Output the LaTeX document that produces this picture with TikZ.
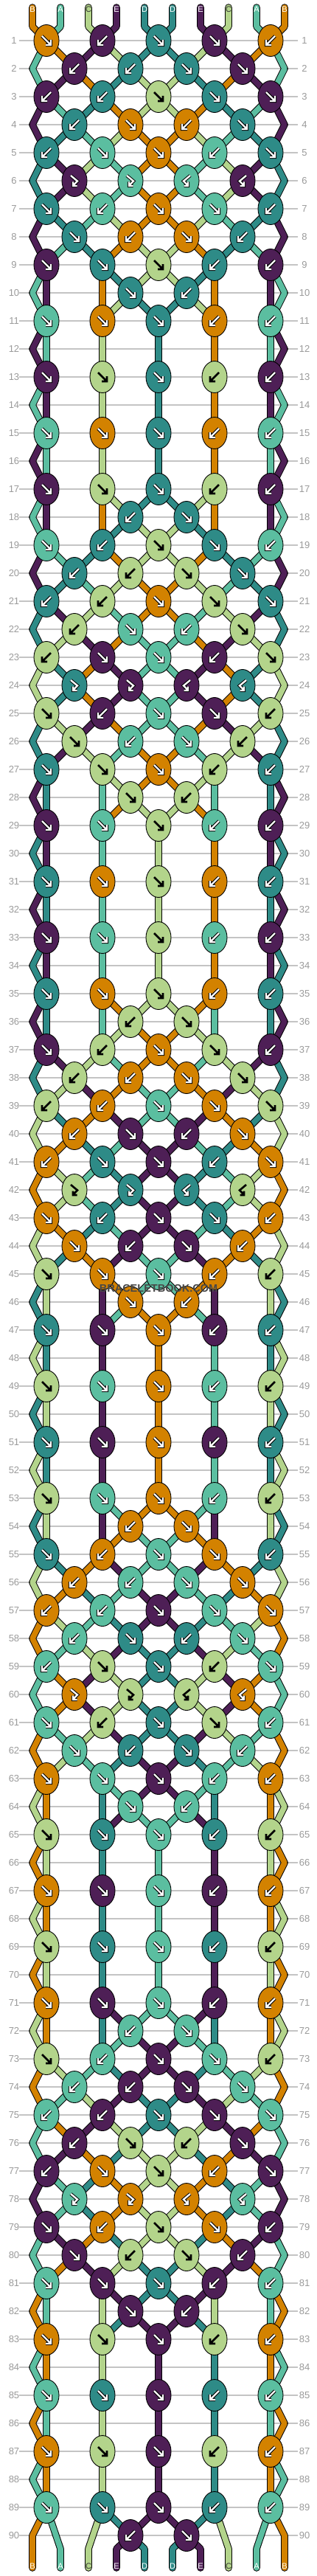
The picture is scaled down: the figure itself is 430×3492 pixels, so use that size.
\documentclass[tikz,border=0pt]{standalone}
\usepackage{fontspec}
\setmainfont{Liberation Sans}
\usetikzlibrary{shapes.geometric}
\definecolor{cB}{HTML}{D38200}
\definecolor{cA}{HTML}{5BBEA0}
\definecolor{cC}{HTML}{B3D48B}
\definecolor{cE}{HTML}{4E1F56}
\definecolor{cD}{HTML}{2E8B87}
\colorlet{col0}{cB}\colorlet{col1}{cA}\colorlet{col2}{cC}\colorlet{col3}{cE}\colorlet{col4}{cD}
\colorlet{col5}{cD}\colorlet{col6}{cE}\colorlet{col7}{cC}\colorlet{col8}{cA}\colorlet{col9}{cB}
\definecolor{gridgray}{HTML}{C4C4C4}
\definecolor{numgray}{HTML}{9A9A9A}
\pgfdeclarelayer{bg}
\pgfsetlayers{bg,main}

% knot patterns (period 18)
\expandafter\def\csname pat1\endcsname{FBFFB}
\expandafter\def\csname pat2\endcsname{BBFF}
\expandafter\def\csname pat3\endcsname{BBFFF}
\expandafter\def\csname pat4\endcsname{BFBF}
\expandafter\def\csname pat5\endcsname{BFFBF}
\expandafter\def\csname pat6\endcsname{ffbb}
\expandafter\def\csname pat7\endcsname{FBFFB}
\expandafter\def\csname pat8\endcsname{FBFB}
\expandafter\def\csname pat9\endcsname{FFFBB}
\expandafter\def\csname pat10\endcsname{-FB-}
\expandafter\def\csname pat11\endcsname{FFFBB}
\expandafter\def\csname pat12\endcsname{----}
\expandafter\def\csname pat13\endcsname{FFFBB}
\expandafter\def\csname pat14\endcsname{----}
\expandafter\def\csname pat15\endcsname{FFFBB}
\expandafter\def\csname pat16\endcsname{----}
\expandafter\def\csname pat17\endcsname{FFFBB}
\expandafter\def\csname pat18\endcsname{-BF-}

% arrow shapes (local coordinates, y downwards)
\expandafter\def\csname arF\endcsname{(-6,-6) -- (5.5,5.5) (6,-1) -- (6,6) -- (-1,6)}
\expandafter\def\csname arB\endcsname{(6,-6) -- (-5.5,5.5) (-6,-1) -- (-6,6) -- (1,6)}
\expandafter\def\csname arf\endcsname{(-5,-7) -- (4,0.5) -- (-2,6.5) (-2,1.5) -- (-2,7) -- (3.5,7)}
\expandafter\def\csname arb\endcsname{(5,-7) -- (-4,0.5) -- (2,6.5) (2,1.5) -- (2,7) -- (-3.5,7)}

\newcount\rowc \newcount\tmpc \newcount\pc
\def\setsid#1#2{\expandafter\xdef\csname sid#1\endcsname{#2}}
\def\getsid#1{\csname sid#1\endcsname}
\def\addpt#1#2{\expandafter\xdef\csname pth#1\endcsname{\csname pth#1\endcsname -- (#2)}}
\gdef\knotlist{}

\def\doknot#1#2{%
  \if-#2\else
    \edef\Lid{\getsid{#1}}%
    \edef\Rid{\getsid{\the\numexpr#1+1\relax}}%
    \edef\kx{\the\numexpr63+38*#1\relax}%
    \addpt{\Lid}{k-\the\rowc-#1.center}%
    \addpt{\Rid}{k-\the\rowc-#1.center}%
    \ifnum0\if F#21\fi\if f#21\fi>0 \edef\kcol{\Lid}\else\edef\kcol{\Rid}\fi
    \xdef\knotlist{\unexpanded\expandafter{\knotlist}\noexpand\knotdraw{\the\rowc}{#1}{\kx}{\ky}{#2}{\kcol}}%
    \ifnum0\if F#21\fi\if B#21\fi>0
      \setsid{#1}{\Rid}\setsid{\the\numexpr#1+1\relax}{\Lid}%
    \fi
  \fi}
\def\oddrow#1#2#3#4#5{\doknot{0}{#1}\doknot{2}{#2}\doknot{4}{#3}\doknot{6}{#4}\doknot{8}{#5}}
\def\evenrow#1#2#3#4{\doknot{1}{#1}\doknot{3}{#2}\doknot{5}{#3}\doknot{7}{#4}%
  \addpt{\getsid{0}}{44,\ky}\addpt{\getsid{9}}{386,\ky}}

% initial strings
\pc=0
\loop
  \setsid{\the\pc}{\the\pc}%
  \expandafter\xdef\csname pth\the\pc\endcsname{(\the\numexpr44+38*\pc\relax,10) -- (\the\numexpr44+38*\pc\relax,36)}%
  \advance\pc1
\ifnum\pc<10 \repeat

% simulate rows
\rowc=1
\loop
  \tmpc=\rowc \advance\tmpc-1 \divide\tmpc18 \multiply\tmpc18
  \edef\ky{\the\numexpr55+38*(\rowc-1)\relax}%
  \edef\curpat{\csname pat\the\numexpr\rowc-\tmpc\relax\endcsname}%
  \ifodd\rowc \expandafter\oddrow\curpat\else\expandafter\evenrow\curpat\fi
  \advance\rowc1
\ifnum\rowc<91 \repeat

% bottom ends
\pc=0
\loop
  \edef\bx{\the\numexpr44+38*\pc\relax}%
  \addpt{\getsid{\the\pc}}{\bx,3455}\addpt{\getsid{\the\pc}}{\bx,3481}%
  \advance\pc1
\ifnum\pc<10 \repeat

\def\knotdraw#1#2#3#4#5#6{%
  \node[knot, fill=col#6] (k-#1-#2) at (#3,#4) {};
  \begin{scope}[shift={(#3,#4)}]
    \ifnum\ifnum#6=2 1\else\ifnum#6=7 1\else0\fi\fi=1
      \edef\tmp{\noexpand\draw[arfgk] \csname ar#5\endcsname;}\tmp
    \else
      \edef\tmp{\noexpand\draw[arbg] \csname ar#5\endcsname;}\tmp
      \edef\tmp{\noexpand\draw[arfgw] \csname ar#5\endcsname;}\tmp
    \fi
  \end{scope}}

\begin{document}
\begin{tikzpicture}[x=1pt,y=-1pt,
  knot/.style={ellipse, draw=black, line width=0.9pt, minimum width=34pt, minimum height=43pt, inner sep=0pt},
  strout/.style={draw=black, line width=9.6pt, line join=round, line cap=round},
  strin/.style={line width=7.6pt, line join=round, line cap=round},
  arbg/.style={draw=black, line width=4.4pt, line join=miter, line cap=butt},
  arfgw/.style={draw=white, line width=2.4pt, line join=miter, line cap=butt},
  arfgk/.style={draw=black, line width=2.6pt, line join=miter, line cap=butt},
  rownum/.style={text=numgray, font=\fontsize{13}{13}\selectfont, inner sep=0pt},
  gridline/.style={draw=gridgray, line width=1.2pt},
  strlabel/.style={font=\fontsize{11}{11}\selectfont, inner sep=0pt}
]
\useasboundingbox (0,0) rectangle (430,3492);
\knotlist
\begin{pgfonlayer}{bg}
  \foreach \r in {1,...,90}{
    \pgfmathtruncatemacro\yy{55+38*(\r-1)}
    \node[rownum] (ln-\r) at (19,\yy) {\r};
    \node[rownum] (rn-\r) at (413,\yy) {\r};
    \draw[gridline] (26,\yy) -- (404,\yy);
  }
  \foreach \i in {0,...,9}{
    \edef\tmp{\noexpand\draw[strout] \csname pth\i\endcsname;}\tmp
    \edef\tmp{\noexpand\draw[strin,draw=col\i] \csname pth\i\endcsname;}\tmp
  }
\end{pgfonlayer}
\foreach \p/\t/\c in {0/B/white,1/A/white,2/C/black!80,3/E/white,4/D/white,5/D/white,6/E/white,7/C/black!80,8/A/white,9/B/white}{
  \node[strlabel, text=\c] (top-\p) at ({44+38*\p},13) {\t};
  \node[strlabel, text=\c] (bot-\p) at ({44+38*\p},3479) {\t};
}
\node[font=\bfseries\fontsize{14.5}{14.5}\selectfont, text=black!72, inner sep=0pt] (wm) at (215,1746) {BRACELETBOOK.COM};
\end{tikzpicture}
\end{document}
